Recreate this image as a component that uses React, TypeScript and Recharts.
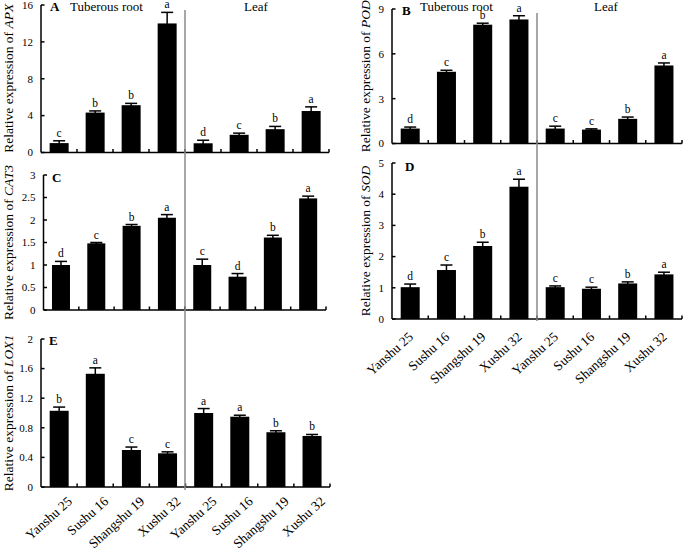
import { BarChart, Bar, XAxis, YAxis, ErrorBar } from "recharts"

// cultivars, tuberous root first then leaf
const cultivars = [
  "Yanshu 25",
  "Sushu 16",
  "Shangshu 19",
  "Xushu 32",
  "Yanshu 25",
  "Sushu 16",
  "Shangshu 19",
  "Xushu 32"
]

const apxMean = [1.02, 4.33, 5.13, 14.0, 1.0, 1.92, 2.53, 4.5]
const apxErr = [0.25, 0.18, 0.2, 1.2, 0.33, 0.18, 0.3, 0.45]
const apxSig = ["c", "b", "b", "a", "d", "c", "b", "a"]
const apxTicks = [0, 4, 8, 12, 16]

const podMean = [1.0, 4.8, 7.95, 8.3, 1.0, 0.93, 1.65, 5.22]
const podErr = [0.1, 0.1, 0.1, 0.25, 0.16, 0.05, 0.12, 0.17]
const podSig = ["d", "c", "b", "a", "c", "c", "b", "a"]
const podTicks = [0, 3, 6, 9]

const catMean = [1.0, 1.48, 1.87, 2.05, 1.0, 0.74, 1.61, 2.48]
const catErr = [0.08, 0.02, 0.03, 0.07, 0.13, 0.07, 0.05, 0.05]
const catSig = ["d", "c", "b", "a", "c", "d", "b", "a"]
const catTicks = [0, 0.5, 1, 1.5, 2, 2.5, 3]

const sodMean = [1.02, 1.57, 2.34, 4.24, 1.02, 0.97, 1.14, 1.43]
const sodErr = [0.1, 0.16, 0.12, 0.24, 0.04, 0.05, 0.05, 0.07]
const sodSig = ["d", "c", "b", "a", "c", "c", "b", "a"]
const sodTicks = [0, 1, 2, 3, 4, 5]

const loxMean = [1.03, 1.53, 0.5, 0.455, 1.0, 0.95, 0.74, 0.69]
const loxErr = [0.05, 0.08, 0.04, 0.02, 0.06, 0.02, 0.02, 0.02]
const loxSig = ["b", "a", "c", "c", "a", "a", "b", "b"]
const loxTicks = [0, 0.4, 0.8, 1.2, 1.6, 2]

const SERIF = '"Liberation Serif", "Times New Roman", serif'
const PAD_TOP = 8
const PAD_RIGHT = 4

type Row = { name: string; mean: number; err: number; sig: string }

function rows(mean: number[], err: number[], sig: string[]): Row[] {
  return cultivars.map((name, i) => ({ name, mean: mean[i], err: err[i], sig: sig[i] }))
}

type Layout = {
  boxLeft: number
  x0: number
  x1: number
  yTop: number
  yBot: number
  labels: boolean
  labelDx?: number
  labelDy?: number
}

const layoutA: Layout = { boxLeft: 0, x0: 41, x1: 329, yTop: 4.5, yBot: 152, labels: false }
const layoutB: Layout = { boxLeft: 355, x0: 392, x1: 682, yTop: 9, yBot: 143.5, labels: false }
const layoutC: Layout = { boxLeft: 0, x0: 43.5, x1: 326, yTop: 175, yBot: 310, labels: false }
const layoutD: Layout = { boxLeft: 355, x0: 392, x1: 682, yTop: 163, yBot: 319, labels: true, labelDx: 4, labelDy: 19 }
const layoutE: Layout = { boxLeft: 0, x0: 41, x1: 330, yTop: 339, yBot: 487, labels: true, labelDx: 14, labelDy: 15.5 }

function SigBar(props: any) {
  const { x, y, width, height, payload } = props
  const errPx = payload.mean > 0 ? (payload.err * height) / payload.mean : 0
  return (
    <g>
      <rect x={x} y={y} width={width} height={height} fill="#000" />
      <text
        x={x + width / 2}
        y={y - errPx - 4}
        textAnchor="middle"
        fontSize={11.5}
        fontFamily={SERIF}
        fill="#000"
      >
        {payload.sig}
      </text>
    </g>
  )
}

function Panel({ data, max, ticks, layout }: { data: Row[]; max: number; ticks: number[]; layout: Layout }) {
  const { boxLeft, x0, x1, yTop, yBot, labels } = layout
  const top = yTop - PAD_TOP
  const xh = labels ? 72 : 8
  const width = x1 - boxLeft + PAD_RIGHT
  const height = yBot - top + xh
  const band = (x1 - x0) / data.length
  const dx = layout.labelDx ?? 0
  const dy = layout.labelDy ?? 0

  return (
    <div style={{ position: "absolute", left: boxLeft, top }}>
      <BarChart
        width={width}
        height={height}
        data={data}
        margin={{ top: PAD_TOP, right: PAD_RIGHT, bottom: 0, left: 0 }}
        barCategoryGap="24%"
      >
        <XAxis
          dataKey="name"
          interval={0}
          height={xh}
          tickSize={0}
          tickMargin={0}
          tickLine={false}
          axisLine={{ stroke: "#000", strokeWidth: 1.5 }}
          tick={(p: any) => (
            <g>
              <line x1={p.x + band / 2} x2={p.x + band / 2} y1={p.y} y2={p.y - 3.5} stroke="#000" strokeWidth={1.5} />
              {labels && (
                <text
                  x={p.x + dx}
                  y={p.y + dy}
                  transform={`rotate(-42, ${p.x + dx}, ${p.y + dy})`}
                  textAnchor="end"
                  fontSize={13.5}
                  fontFamily={SERIF}
                  fill="#000"
                >
                  {p.payload.value}
                </text>
              )}
            </g>
          )}
        />
        <YAxis
          type="number"
          domain={[0, max]}
          ticks={ticks}
          interval={0}
          width={x0 - boxLeft}
          tickSize={0}
          tickMargin={0}
          tickLine={false}
          axisLine={{ stroke: "#000", strokeWidth: 1.5 }}
          tick={(p: any) => (
            <g>
              <line x1={p.x} x2={p.x + 3.5} y1={p.y} y2={p.y} stroke="#000" strokeWidth={1.5} />
              <text x={p.x - 8} y={p.y} dy="0.35em" textAnchor="end" fontSize={11} fontFamily={SERIF} fill="#000">
                {p.payload.value}
              </text>
            </g>
          )}
        />
        <Bar dataKey="mean" fill="#000" isAnimationActive={false} shape={(p: any) => <SigBar {...p} />}>
          <ErrorBar dataKey="err" width={6} stroke="#000" strokeWidth={1.5} direction="y" isAnimationActive={false} />
        </Bar>
      </BarChart>
    </div>
  )
}

function AxisTitle({ x, layout, gene }: { x: number; layout: Layout; gene: string }) {
  const cy = (layout.yTop + layout.yBot) / 2
  return (
    <text
      x={x}
      y={cy}
      transform={`rotate(-90, ${x}, ${cy})`}
      textAnchor="middle"
      fontSize={13.5}
      fontFamily={SERIF}
      fill="#000"
    >
      Relative expression of <tspan fontStyle="italic">{gene}</tspan>
    </text>
  )
}

function divider(layout: Layout) {
  return layout.x0 + ((layout.x1 - layout.x0) / cultivars.length) * 4
}

export default function App() {
  const textStyle = { fontFamily: SERIF, fontSize: 13 }
  return (
    <div style={{ position: "absolute", left: 0, top: 0, width: 685, height: 552, background: "#fff", fontFamily: SERIF }}>
      <Panel data={rows(apxMean, apxErr, apxSig)} max={16} ticks={apxTicks} layout={layoutA} />
      <Panel data={rows(podMean, podErr, podSig)} max={9} ticks={podTicks} layout={layoutB} />
      <Panel data={rows(catMean, catErr, catSig)} max={3} ticks={catTicks} layout={layoutC} />
      <Panel data={rows(sodMean, sodErr, sodSig)} max={5} ticks={sodTicks} layout={layoutD} />
      <Panel data={rows(loxMean, loxErr, loxSig)} max={2} ticks={loxTicks} layout={layoutE} />

      <svg
        width={685}
        height={552}
        style={{ position: "absolute", left: 0, top: 0, pointerEvents: "none" }}
      >
        <line x1={divider(layoutA)} x2={divider(layoutA)} y1={10} y2={490} stroke="#8a8a8a" strokeWidth={1.5} />
        <line x1={divider(layoutB)} x2={divider(layoutB)} y1={13} y2={321} stroke="#8a8a8a" strokeWidth={1.5} />

        <AxisTitle x={12.5} layout={layoutA} gene="APX" />
        <AxisTitle x={12.5} layout={layoutC} gene="CAT3" />
        <AxisTitle x={12.5} layout={layoutE} gene="LOX1" />
        <AxisTitle x={370} layout={layoutB} gene="POD" />
        <AxisTitle x={370} layout={layoutD} gene="SOD" />

        <text x={50} y={11} fontSize={14} fontWeight="bold" style={textStyle}>A</text>
        <text x={70} y={11} style={textStyle}>Tuberous root</text>
        <text x={256} y={11} textAnchor="middle" style={textStyle}>Leaf</text>

        <text x={402} y={15} fontSize={14} fontWeight="bold" style={textStyle}>B</text>
        <text x={420} y={10.5} style={textStyle}>Tuberous root</text>
        <text x={606} y={10.5} textAnchor="middle" style={textStyle}>Leaf</text>

        <text x={52} y={182} fontSize={14} fontWeight="bold" style={textStyle}>C</text>
        <text x={405} y={171} fontSize={14} fontWeight="bold" style={textStyle}>D</text>
        <text x={49} y={345} fontSize={14} fontWeight="bold" style={textStyle}>E</text>
      </svg>
    </div>
  )
}
